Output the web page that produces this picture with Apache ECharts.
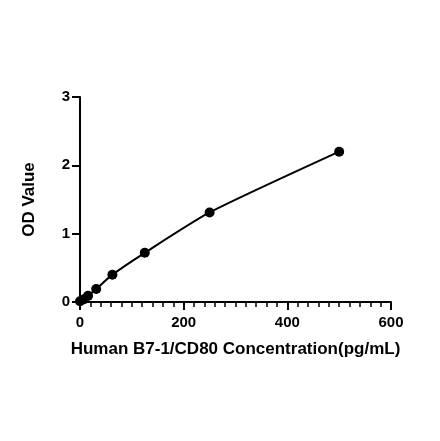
<!DOCTYPE html>
<html><head><meta charset="utf-8">
<script src="https://cdn.jsdelivr.net/npm/echarts@6/dist/echarts.min.js"></script>
<style>html,body{margin:0;padding:0;background:#fff}#c{width:440px;height:441px}</style>
</head><body><div id="c"></div>
<script>
const concentrations = [0, 7.8, 15.6, 31.25, 62.5, 125, 250, 500];
const odValues = [0.01, 0.04, 0.09, 0.19, 0.40, 0.72, 1.31, 2.20];
const xTitle = 'Human B7-1/CD80 Concentration(pg/mL)';
const yTitle = 'OD Value';

const chart = echarts.init(document.getElementById('c'));
const font = 'Liberation Sans, Arial, sans-serif';
chart.setOption({
  animation: false,
  grid: {left: 80, right: 49, top: 97, bottom: 139},
  xAxis: {
    type: 'value', min: 0, max: 600, interval: 200,
    name: xTitle, nameLocation: 'middle', nameGap: 39,
    nameTextStyle: {fontFamily: font, fontWeight: 'bold', fontSize: 17, color: '#000'},
    axisLine: {onZero: false, lineStyle: {color: '#000', width: 2}},
    axisTick: {length: 8, lineStyle: {color: '#000', width: 2}},
    minorTick: {show: true, splitNumber: 10, length: 5, lineStyle: {color: '#000', width: 1.5}},
    axisLabel: {fontFamily: font, fontWeight: 'bold', fontSize: 15, color: '#000', margin: 13},
    splitLine: {show: false}
  },
  yAxis: {
    type: 'value', min: 0, max: 3, interval: 1,
    name: yTitle, nameLocation: 'middle', nameGap: 42, nameRotate: 90,
    nameTextStyle: {fontFamily: font, fontWeight: 'bold', fontSize: 17, color: '#000'},
    axisLine: {show: true, lineStyle: {color: '#000', width: 2}},
    axisTick: {show: true, length: 8, lineStyle: {color: '#000', width: 2}},
    axisLabel: {fontFamily: font, fontWeight: 'bold', fontSize: 15, color: '#000', margin: 10},
    splitLine: {show: false}
  },
  series: [{
    type: 'line', smooth: 0.2,
    data: concentrations.map((c, i) => [c, odValues[i]]),
    symbol: 'circle', symbolSize: 10,
    itemStyle: {color: '#000'},
    lineStyle: {color: '#000', width: 2}
  }]
});
</script></body></html>
